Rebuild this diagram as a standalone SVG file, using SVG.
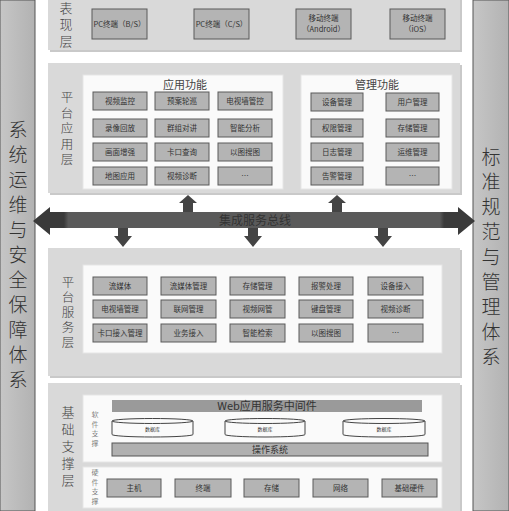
<svg xmlns="http://www.w3.org/2000/svg" width="509" height="511" viewBox="0 0 509 511">
<defs>
<style>
text{font-family:"Noto Sans CJK SC","Liberation Sans",sans-serif;fill:#333;}
.side{font-size:19px;text-anchor:middle;fill:#333;font-weight:300;}
.vl{writing-mode:vertical-rl;text-anchor:middle;fill:#444;font-weight:300;}
.panel{fill:#d9d9d9;}
.shadow{fill:#c9c9c9;}
.white{fill:#fafafa;stroke:#e6e6e6;stroke-width:1;}
.box{fill:#b4b4b4;stroke:#5a5a5a;stroke-width:1;}
.bt{font-size:7.5px;text-anchor:middle;fill:#333;}
.title{font-size:11px;text-anchor:middle;fill:#444;}
.arrow{fill:#444;}
</style>
<linearGradient id="bar" x1="0" x2="1" y1="0" y2="0">
<stop offset="0" stop-color="#c6c6c6"/>
<stop offset="1" stop-color="#b2b2b2"/>
</linearGradient>
<linearGradient id="bus" x1="0" x2="1" y1="0" y2="0">
<stop offset="0" stop-color="#3a3a3a"/>
<stop offset="0.07" stop-color="#3a3a3a"/>
<stop offset="0.08" stop-color="#5a5a5a"/>
<stop offset="0.92" stop-color="#5a5a5a"/>
<stop offset="0.93" stop-color="#3a3a3a"/>
<stop offset="1" stop-color="#3a3a3a"/>
</linearGradient>
</defs>
<rect width="509" height="511" fill="#ffffff"/>

<g id="left-bar">
<rect x="0" y="0" width="35" height="511" fill="url(#bar)" stroke="#555" stroke-width="1"/>
<text class="side" x="18" y="137">系</text>
<text class="side" x="18" y="162">统</text>
<text class="side" x="18" y="187">运</text>
<text class="side" x="18" y="212">维</text>
<text class="side" x="18" y="237">与</text>
<text class="side" x="18" y="262">安</text>
<text class="side" x="18" y="287">全</text>
<text class="side" x="18" y="312">保</text>
<text class="side" x="18" y="337">障</text>
<text class="side" x="18" y="362">体</text>
<text class="side" x="18" y="387">系</text>
</g>

<g id="right-bar">
<rect x="473" y="0" width="36" height="511" fill="url(#bar)" stroke="#555" stroke-width="1"/>
<text class="side" x="491" y="164">标</text>
<text class="side" x="491" y="189">准</text>
<text class="side" x="491" y="214">规</text>
<text class="side" x="491" y="239">范</text>
<text class="side" x="491" y="264">与</text>
<text class="side" x="491" y="289">管</text>
<text class="side" x="491" y="314">理</text>
<text class="side" x="491" y="339">体</text>
<text class="side" x="491" y="364">系</text>
</g>

<g id="presentation-layer">
<rect class="shadow" x="50" y="-5" width="412" height="57"/>
<rect class="panel" x="48" y="-5" width="412" height="55"/>
<text class="vl" x="66" y="26" font-size="13" letter-spacing="3.5">表现层</text>
<rect class="box" x="92" y="9" width="55" height="30"/>
<text class="bt" x="119.5" y="27">PC终端（B/S）</text>
<rect class="box" x="194" y="9" width="55" height="30"/>
<text class="bt" x="221.5" y="27">PC终端（C/S）</text>
<rect class="box" x="296" y="9" width="55" height="30"/>
<text class="bt" x="323.5" y="21">移动终端</text>
<text class="bt" x="323.5" y="32">（Android）</text>
<rect class="box" x="390" y="9" width="55" height="30"/>
<text class="bt" x="417.5" y="21">移动终端</text>
<text class="bt" x="417.5" y="32">（iOS）</text>
</g>

<g id="platform-application-layer">
<rect class="shadow" x="50" y="65" width="412" height="130"/>
<rect class="panel" x="48" y="63" width="412" height="130"/>
<text class="vl" x="67" y="130" font-size="12.5" letter-spacing="3">平台应用层</text>
</g>

<g id="application-functions">
<rect class="white" x="83" y="75" width="200" height="114"/>
<text class="title" x="185" y="89">应用功能</text>
<rect class="box" x="93" y="92" width="54" height="18"/><text class="bt" x="120" y="104">视频监控</text>
<rect class="box" x="155" y="92" width="54" height="18"/><text class="bt" x="182" y="104">预案轮巡</text>
<rect class="box" x="218" y="92" width="54" height="18"/><text class="bt" x="245" y="104">电视墙管控</text>
<rect class="box" x="93" y="119" width="54" height="18"/><text class="bt" x="120" y="131">录像回放</text>
<rect class="box" x="155" y="119" width="54" height="18"/><text class="bt" x="182" y="131">群组对讲</text>
<rect class="box" x="218" y="119" width="54" height="18"/><text class="bt" x="245" y="131">智能分析</text>
<rect class="box" x="93" y="143" width="54" height="18"/><text class="bt" x="120" y="155">画面增强</text>
<rect class="box" x="155" y="143" width="54" height="18"/><text class="bt" x="182" y="155">卡口查询</text>
<rect class="box" x="218" y="143" width="54" height="18"/><text class="bt" x="245" y="155">以图搜图</text>
<rect class="box" x="93" y="167" width="54" height="18"/><text class="bt" x="120" y="179">地图应用</text>
<rect class="box" x="155" y="167" width="54" height="18"/><text class="bt" x="182" y="179">视频诊断</text>
<rect class="box" x="218" y="167" width="54" height="18"/><text class="bt" x="245" y="179">…</text>
</g>

<g id="management-functions">
<rect class="white" x="301" y="75" width="151" height="114"/>
<text class="title" x="377" y="89">管理功能</text>
<rect class="box" x="311" y="93" width="52" height="18"/><text class="bt" x="337" y="105">设备管理</text>
<rect class="box" x="386" y="93" width="53" height="18"/><text class="bt" x="412.5" y="105">用户管理</text>
<rect class="box" x="311" y="119" width="52" height="18"/><text class="bt" x="337" y="131">权限管理</text>
<rect class="box" x="386" y="119" width="53" height="18"/><text class="bt" x="412.5" y="131">存储管理</text>
<rect class="box" x="311" y="143" width="52" height="18"/><text class="bt" x="337" y="155">日志管理</text>
<rect class="box" x="386" y="143" width="53" height="18"/><text class="bt" x="412.5" y="155">运维管理</text>
<rect class="box" x="311" y="167" width="52" height="18"/><text class="bt" x="337" y="179">告警管理</text>
<rect class="box" x="386" y="167" width="53" height="18"/><text class="bt" x="412.5" y="179">…</text>
</g>

<g id="platform-service-layer">
<rect class="shadow" x="50" y="250" width="412" height="128"/>
<rect class="panel" x="48" y="248" width="412" height="128"/>
<text class="vl" x="68" y="313" font-size="12.5" letter-spacing="2.5">平台服务层</text>
<rect class="white" x="83" y="265" width="359" height="88"/>
<rect class="box" x="93" y="277" width="54" height="18"/><text class="bt" x="120" y="289">流媒体</text>
<rect class="box" x="161" y="277" width="55" height="18"/><text class="bt" x="188.5" y="289">流媒体管理</text>
<rect class="box" x="230" y="277" width="55" height="18"/><text class="bt" x="257.5" y="289">存储管理</text>
<rect class="box" x="299" y="277" width="54" height="18"/><text class="bt" x="326" y="289">报警处理</text>
<rect class="box" x="368" y="277" width="55" height="18"/><text class="bt" x="395.5" y="289">设备接入</text>
<rect class="box" x="93" y="300" width="54" height="18"/><text class="bt" x="120" y="312">电视墙管理</text>
<rect class="box" x="161" y="300" width="55" height="18"/><text class="bt" x="188.5" y="312">联网管理</text>
<rect class="box" x="230" y="300" width="55" height="18"/><text class="bt" x="257.5" y="312">视频网管</text>
<rect class="box" x="299" y="300" width="54" height="18"/><text class="bt" x="326" y="312">键盘管理</text>
<rect class="box" x="368" y="300" width="55" height="18"/><text class="bt" x="395.5" y="312">视频诊断</text>
<rect class="box" x="93" y="324" width="54" height="18"/><text class="bt" x="120" y="336">卡口接入管理</text>
<rect class="box" x="161" y="324" width="55" height="18"/><text class="bt" x="188.5" y="336">业务接入</text>
<rect class="box" x="230" y="324" width="55" height="18"/><text class="bt" x="257.5" y="336">智能检索</text>
<rect class="box" x="299" y="324" width="54" height="18"/><text class="bt" x="326" y="336">以图搜图</text>
<rect class="box" x="368" y="324" width="55" height="18"/><text class="bt" x="395.5" y="336">…</text>
</g>

<g id="base-support-layer">
<rect class="shadow" x="50" y="385" width="412" height="130"/>
<rect class="panel" x="48" y="383" width="412" height="130"/>
<text class="vl" x="68" y="448" font-size="13" letter-spacing="4">基础支撑层</text>
<rect class="white" x="83" y="395" width="359" height="67"/>
<text class="vl" x="95" y="430" font-size="7" letter-spacing="2.5" fill="#555">软件支撑</text>
<rect x="112" y="400" width="310" height="12" fill="#9a9a9a"/>
<text x="267" y="410" font-size="11" text-anchor="middle" fill="#333">Web应用服务中间件</text>
<path d="M112,421 V434.5 A40.5,2.5 0 0 0 193,434.5 V421" fill="#fafafa" stroke="#444"/>
<ellipse cx="152.5" cy="421" rx="40.5" ry="2.5" fill="#fafafa" stroke="#444"/>
<text x="152.5" y="431" font-size="5" text-anchor="middle" fill="#444">数据库</text>
<path d="M225,421 V434.5 A40,2.5 0 0 0 305,434.5 V421" fill="#fafafa" stroke="#444"/>
<ellipse cx="265" cy="421" rx="40" ry="2.5" fill="#fafafa" stroke="#444"/>
<text x="265" y="431" font-size="5" text-anchor="middle" fill="#444">数据库</text>
<path d="M343,421 V434.5 A41,2.5 0 0 0 425,434.5 V421" fill="#fafafa" stroke="#444"/>
<ellipse cx="384" cy="421" rx="41" ry="2.5" fill="#fafafa" stroke="#444"/>
<text x="384" y="431" font-size="5" text-anchor="middle" fill="#444">数据库</text>
<rect x="112" y="443" width="316" height="13" fill="#b0b0b0" stroke="#555"/>
<text x="270" y="453" font-size="9" text-anchor="middle" fill="#333">操作系统</text>
<rect class="white" x="83" y="467" width="359" height="41"/>
<text class="vl" x="95" y="488" font-size="7" letter-spacing="2.5" fill="#555">硬件支撑</text>
<rect class="box" x="107" y="479" width="54" height="18"/><text class="bt" x="134" y="491">主机</text>
<rect class="box" x="175" y="479" width="56" height="18"/><text class="bt" x="203" y="491">终端</text>
<rect class="box" x="244" y="479" width="55" height="18"/><text class="bt" x="271.5" y="491">存储</text>
<rect class="box" x="313" y="479" width="55" height="18"/><text class="bt" x="340.5" y="491">网络</text>
<rect class="box" x="382" y="479" width="55" height="18"/><text class="bt" x="409.5" y="491">基础硬件</text>
</g>

<g id="connectors">
<path d="M33,221 L50,207 L50,212 L458,212 L458,207 L475,221 L458,235 L458,228 L50,228 L50,235 Z" fill="url(#bus)"/>
<text x="255" y="225" font-size="12" text-anchor="middle" fill="#262626">集成服务总线</text>
<path class="arrow" d="M188,195 L197,203 L193,203 L193,212 L183,212 L183,203 L179,203 Z"/>
<path class="arrow" d="M337,195 L346,203 L342,203 L342,212 L332,212 L332,203 L328,203 Z"/>
<path class="arrow" d="M123,247 L132,236 L128,236 L128,228 L118,228 L118,236 L114,236 Z"/>
<path class="arrow" d="M253,247 L262,236 L258,236 L258,228 L248,228 L248,236 L244,236 Z"/>
<path class="arrow" d="M383,247 L392,236 L388,236 L388,228 L378,228 L378,236 L374,236 Z"/>
</g>
</svg>
